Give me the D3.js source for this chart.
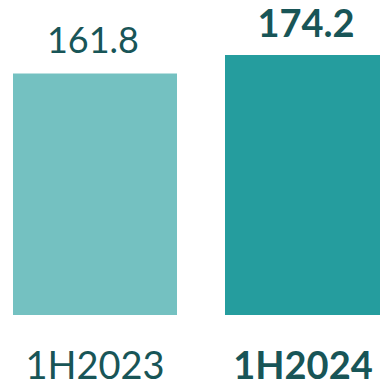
<!DOCTYPE html>
<html><head><meta charset="utf-8">
<script src="https://cdn.jsdelivr.net/npm/d3@7"></script>
<style>html,body{margin:0;padding:0;background:#fff;overflow:hidden}</style>
</head><body>
<script>
const categories = ["1H2023", "1H2024"];
const values = [161.8, 174.2];
const valueLabels = ["161.8", "174.2"];
const colors = ["#74c1c1", "#259d9e"];
const weights = ["normal", "bold"];

const W = 380, H = 388;
const svg = d3.select("body").append("svg").attr("width", W).attr("height", H);
const x = d3.scaleBand().domain(categories).range([13, 389]).paddingInner(48/212).paddingOuter(0);
const y = d3.scaleLinear().domain([0, 174.2]).range([315, 55]);
const font = "Lato, 'Open Sans', sans-serif";
const textColor = "#185557";

svg.selectAll("rect").data(categories).join("rect")
  .attr("x", d => x(d)).attr("width", x.bandwidth())
  .attr("y", (d,i) => y(values[i])).attr("height", (d,i) => y(0) - y(values[i]))
  .attr("fill", (d,i) => colors[i]);

svg.selectAll("text.val").data(categories).join("text").attr("class","val")
  .attr("x", (d,i) => x(d) + x.bandwidth()/2 - (i ? 1 : 2))
  .attr("y", (d,i) => y(values[i]) - (i ? 18 : 21))
  .attr("text-anchor","middle")
  .attr("font-family", font).attr("font-size", (d,i) => i ? 38 : 36)
  .attr("font-weight", (d,i) => weights[i])
  .attr("fill", textColor)
  .text((d,i) => valueLabels[i]);

svg.selectAll("text.cat").data(categories).join("text").attr("class","cat")
  .attr("x", (d,i) => x(d) + x.bandwidth()/2 - (i ? 4 : 0))
  .attr("y", 379)
  .attr("text-anchor","middle")
  .attr("font-family", font).attr("font-size", 38)
  .attr("font-weight", (d,i) => weights[i])
  .attr("fill", textColor)
  .text(d => d);
</script>
</body></html>
